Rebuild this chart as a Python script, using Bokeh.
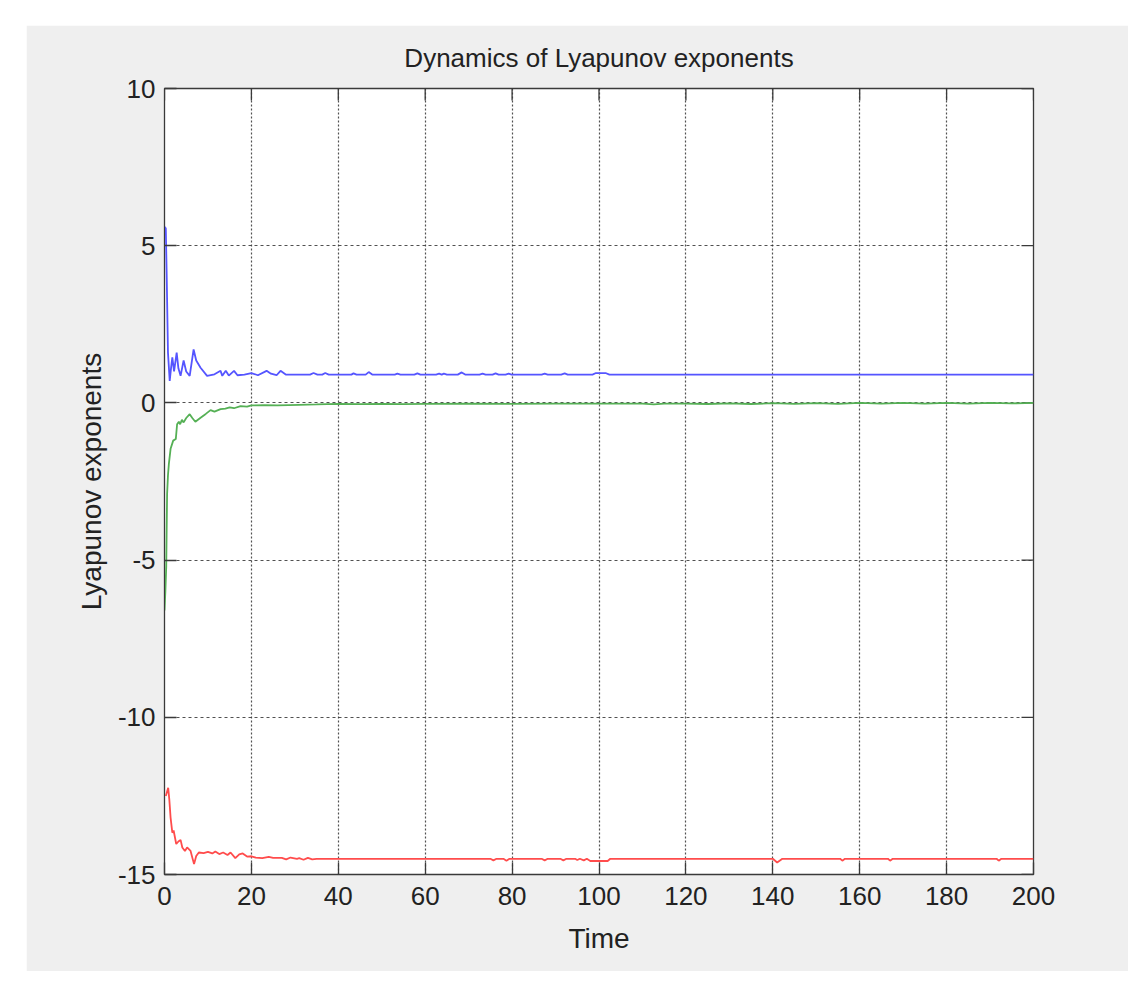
from bokeh.plotting import figure
from bokeh.models import Range1d, FixedTicker, CustomJSTickFormatter
from bokeh.embed import file_html
from bokeh.resources import INLINE

# ---------------- data ----------------
blue_t = [0, 0.3, 0.5, 0.8, 1.2, 1.5, 1.8, 2.2, 2.8, 3.2, 3.7, 4.4, 5.0, 5.8, 6.7, 7.3, 8.3,
          9.8, 11.5, 12.9, 13.3, 14.1, 14.8, 16.0, 16.8, 18.4, 20, 21.5, 23.5, 24.5, 25.8,
          26.7, 27.9, 33.5, 34.3, 35.2, 36.3, 37, 37.8, 43, 43.5, 44.2, 46.3, 47, 47.8,
          53, 53.6, 54.3, 57.5, 58.2, 58.9, 62.5, 63.2, 63.8, 64.3, 65, 67.5, 68.4, 69.2,
          72.5, 73.2, 73.9, 75.5, 76.2, 76.9, 78.5, 79.2, 79.9, 86.8, 87.5, 88.2, 91.3,
          92.1, 92.8, 98.5, 99.3, 101.5, 102.4, 200]
blue_v = [5.6, 5.55, 4.1, 1.6, 0.7, 1.1, 1.45, 1.0, 1.6, 1.1, 0.86, 1.35, 1.0, 0.86, 1.7, 1.35,
          1.12, 0.86, 0.91, 1.02, 0.86, 1.02, 0.87, 1.02, 0.88, 0.9, 0.95, 0.88, 1.02, 0.93,
          0.88, 1.02, 0.9, 0.9, 0.95, 0.9, 0.9, 0.95, 0.9, 0.9, 0.94, 0.9, 0.9, 0.98, 0.9,
          0.9, 0.93, 0.9, 0.9, 0.94, 0.9, 0.9, 0.93, 0.9, 0.93, 0.9, 0.9, 0.97, 0.9,
          0.9, 0.93, 0.9, 0.9, 0.94, 0.9, 0.9, 0.93, 0.9, 0.9, 0.93, 0.9, 0.9,
          0.94, 0.9, 0.9, 0.95, 0.95, 0.9, 0.9]

green_t = [0, 0.2, 0.4, 0.5, 0.6, 0.8, 1.0, 1.4, 2.0, 2.6, 2.9, 3.3, 3.6, 4.0, 4.4, 5.0, 5.8,
           6.4, 7.1, 8.3, 9.5, 10.6, 11.5, 12.9, 14, 15, 16, 17.5, 19, 20, 23, 26, 31, 35,
           40, 45, 50, 55, 60, 70, 80, 90, 100, 110, 112.6, 115, 120, 125, 130, 135, 140,
           145, 150, 155, 160, 165, 170, 175, 180, 185, 190, 195, 200]
green_v = [-6.6, -6.0, -5.2, -4.0, -2.9, -2.3, -1.95, -1.46, -1.2, -1.15, -0.68, -0.6, -0.68,
           -0.54, -0.62, -0.48, -0.36, -0.48, -0.6, -0.47, -0.35, -0.23, -0.28, -0.2, -0.18,
           -0.14, -0.17, -0.1, -0.12, -0.08, -0.07, -0.08, -0.06, -0.05, -0.03, -0.04, -0.03,
           -0.04, -0.03, -0.02, -0.03, -0.02, -0.02, -0.02, -0.05, -0.02, -0.02, -0.035,
           -0.015, -0.035, -0.01, -0.03, -0.005, -0.03, 0.0, -0.025, 0.0, -0.02, 0.0, -0.02,
           0.0, -0.015, 0.0]

red_t = [0.3, 0.85, 1.1, 1.4, 1.8, 2.1, 2.7, 3.2, 3.7, 4.1, 4.7, 5.2, 6.0, 6.8, 7.3, 7.9, 9,
         10, 11, 11.7, 12.6, 13.5, 14.5, 15.2, 16.3, 17.2, 18, 19, 20, 21, 22.5, 24, 25, 27,
         28, 29, 30.5, 31, 32, 33, 34, 35, 75, 75.7, 76.4, 78, 78.7, 79.4, 86.8, 87.5, 88.2,
         91.1, 91.8, 92.5, 94.5, 95, 95.6, 96.5, 97.2, 98, 102, 102.6, 140, 141, 142.2,
         155.5, 156, 156.6, 166.5, 167, 167.6, 191.5, 192, 192.6, 200]
red_v = [-12.5, -12.24, -12.6, -13.19, -13.67, -13.6, -14.03, -13.95, -13.9, -14.14, -14.25,
         -14.14, -14.25, -14.67, -14.41, -14.3, -14.32, -14.28, -14.33, -14.27, -14.35, -14.3,
         -14.38, -14.3, -14.48, -14.36, -14.33, -14.43, -14.42, -14.46, -14.48, -14.44,
         -14.47, -14.47, -14.52, -14.46, -14.5, -14.48, -14.53, -14.47, -14.52, -14.5,
         -14.5, -14.55, -14.5, -14.5, -14.56, -14.5, -14.5, -14.55, -14.5, -14.5, -14.55,
         -14.5, -14.5, -14.54, -14.5, -14.55, -14.5, -14.57, -14.57, -14.5, -14.5, -14.62,
         -14.5, -14.5, -14.56, -14.5, -14.5, -14.56, -14.5, -14.5, -14.56, -14.5, -14.5]

x_ticks = [0, 20, 40, 60, 80, 100, 120, 140, 160, 180, 200]
y_ticks = [-15, -10, -5, 0, 5, 10]

TITLE = "Dynamics of Lyapunov exponents"
XLABEL = "Time"
YLABEL = "Lyapunov exponents"

# ---------------- figure ----------------
FONT = "Liberation Sans"
BG = "#efefef"
AX = "#3a3a3a"
XMIN, XMAX, YMIN, YMAX = 0, 200, -15, 10

p = figure(width=1102, height=946, output_backend="svg", toolbar_location=None,
           x_range=Range1d(XMIN, XMAX), y_range=Range1d(YMIN, YMAX),
           min_border_left=138, min_border_right=95, min_border_top=63, min_border_bottom=97,
           title=TITLE)
p.margin = (25, 0, 0, 26)

p.background_fill_color = "white"
p.border_fill_color = BG
p.outline_line_color = AX
p.outline_line_width = 1.3

p.title.align = "center"
p.title.text_font = FONT
p.title.text_font_size = "26px"
p.title.text_font_style = "normal"
p.title.text_color = "#222222"
p.title.standoff = 31

fmt = CustomJSTickFormatter(code="return String(tick);")
for ax, ticks in ((p.xaxis[0], x_ticks), (p.yaxis[0], y_ticks)):
    ax.ticker = FixedTicker(ticks=ticks)
    ax.formatter = fmt
    ax.major_tick_in = 12
    ax.major_tick_out = 0
    ax.minor_tick_in = 0
    ax.minor_tick_out = 0
    ax.axis_line_color = AX
    ax.major_tick_line_color = AX
    ax.major_tick_line_width = 1.3
    ax.major_label_text_font = FONT
    ax.major_label_text_font_size = "26px"
    ax.major_label_text_color = "#222222"
    ax.axis_label_text_font = FONT
    ax.axis_label_text_font_size = "28px"
    ax.axis_label_text_font_style = "normal"
    ax.axis_label_text_color = "#222222"

p.xaxis.axis_label = XLABEL
p.yaxis.axis_label = YLABEL
p.xaxis.major_label_standoff = 12
p.yaxis.major_label_standoff = 9
p.xaxis.axis_label_standoff = 15
p.yaxis.axis_label_standoff = 8

# inward ticks on the top and right edges (box on)
tx = 12.0 * (XMAX - XMIN) / 869.0
ty = 12.0 * (YMAX - YMIN) / 786.0
p.segment(x0=x_ticks, y0=[YMAX] * len(x_ticks), x1=x_ticks, y1=[YMAX - ty] * len(x_ticks),
          line_color=AX, line_width=1.3)
p.segment(x0=[XMAX] * len(y_ticks), y0=y_ticks, x1=[XMAX - tx] * len(y_ticks), y1=y_ticks,
          line_color=AX, line_width=1.3)

p.xgrid.ticker = FixedTicker(ticks=x_ticks)
p.ygrid.ticker = FixedTicker(ticks=y_ticks)
p.xgrid.grid_line_color = "#333333"
p.xgrid.grid_line_dash = "2 2"
p.xgrid.grid_line_width = 1.2
p.xgrid.grid_line_alpha = 0.85
p.ygrid.grid_line_color = "#333333"
p.ygrid.grid_line_dash = "3 3"
p.ygrid.grid_line_width = 1.2
p.ygrid.grid_line_alpha = 0.85

p.line(blue_t, blue_v, line_color="#5555ff", line_width=1.8)
p.line(green_t, green_v, line_color="#55b055", line_width=1.8)
p.line(red_t, red_v, line_color="#ff4c4c", line_width=1.8)

open("out.html", "w").write(file_html(p, INLINE))
